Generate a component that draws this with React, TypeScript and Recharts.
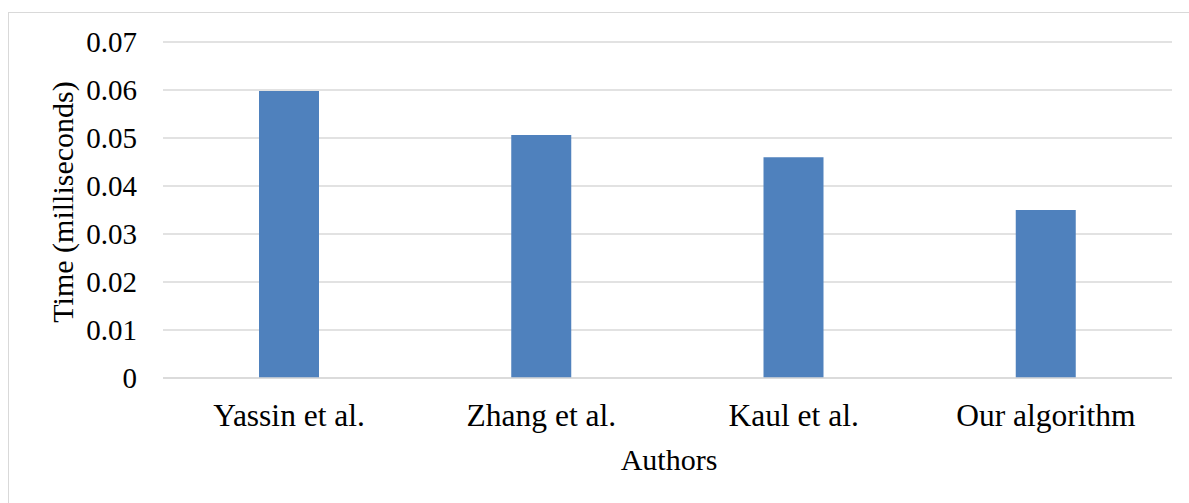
import React from 'react'
import { BarChart, Bar, XAxis, YAxis, CartesianGrid } from 'recharts'

const authors = ['Yassin et al.', 'Zhang et al.', 'Kaul et al.', 'Our algorithm']
const timeMs = [0.0598, 0.0506, 0.046, 0.035]
const yTicks = [0, 0.01, 0.02, 0.03, 0.04, 0.05, 0.06, 0.07]

const font = 'Liberation Serif'

export default function App() {
  const data = authors.map((name, i) => ({ name, time: timeMs[i] }))

  return (
    <div style={{ position: 'absolute', left: 0, top: 0, width: 1189, height: 503, overflow: 'hidden', background: '#fff' }}>
      {/* chart frame, runs off the right and bottom edges */}
      <div style={{ position: 'absolute', left: 8, top: 12, width: 1300, height: 600, border: '1px solid #d9d9d9', boxSizing: 'border-box' }} />
      <div style={{ position: 'absolute', left: 0, top: 0 }}>
        <BarChart
          width={1189}
          height={503}
          data={data}
          margin={{ top: 42, right: 17, bottom: 0, left: 0 }}
          style={{ fontFamily: font }}
        >
          <CartesianGrid vertical={false} stroke="#d9d9d9" strokeWidth={1.5} />
          <XAxis
            dataKey="name"
            height={125}
            axisLine={{ stroke: '#d9d9d9', strokeWidth: 1.5 }}
            tickLine={false}
            tickMargin={20}
            tick={{ fill: '#000', fontSize: 31.5, fontFamily: font }}
            label={{
              content: () => (
                <text x={669} y={469.5} textAnchor="middle" fontSize={30} fontFamily={font} fill="#000">
                  Authors
                </text>
              )
            }}
          />
          <YAxis
            width={163}
            domain={[0, 0.07]}
            ticks={yTicks}
            axisLine={false}
            tickLine={false}
            tickMargin={20}
            tickFormatter={(v: number) => (v === 0 ? '0' : v.toFixed(2))}
            tick={{ fill: '#000', fontSize: 29, fontFamily: font }}
            label={{
              content: () => (
                <text
                  x={73}
                  y={202}
                  transform="rotate(-90, 73, 202)"
                  textAnchor="middle"
                  fontSize={30}
                  fontFamily={font}
                  fill="#000"
                >
                  Time (milliseconds)
                </text>
              )
            }}
          />
          <Bar dataKey="time" fill="#4f81bd" barSize={60} isAnimationActive={false} />
        </BarChart>
      </div>
    </div>
  )
}
